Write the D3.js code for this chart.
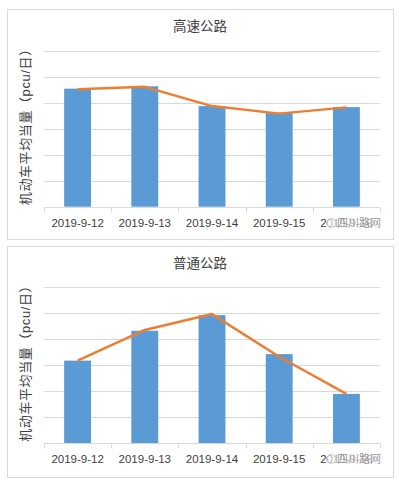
<!DOCTYPE html>
<html>
<head>
<meta charset="utf-8">
<script src="https://cdn.jsdelivr.net/npm/d3@7/dist/d3.min.js"></script>
<style>
  body { margin: 0; background: #fff; }
  svg text { font-family: "Liberation Sans", Arial, "Noto Sans CJK SC", sans-serif; fill: #404040; }
</style>
</head>
<body>
<svg id="chart" width="399" height="484"></svg>
<script>
const width = 399,
  height = 484

const dates = ['2019-9-12', '2019-9-13', '2019-9-14', '2019-9-15', '2019-9-16']
const titles = ['高速公路', '普通公路']
const highwayBars = [4.54, 4.63, 3.87, 3.62, 3.83]
const highwayLine = [4.52, 4.61, 3.87, 3.58, 3.82]
const roadBars = [3.18, 4.33, 4.93, 3.43, 1.90]
const roadLine = [3.18, 4.36, 4.97, 3.33, 1.90]
const yTicks = [0, 1, 2, 3, 4, 5, 6]
const yTitle = '机动车平均当量（pcu/日）'

let svg = d3.select('#chart')

// one panel per road type
let panels = [
  { title: titles[0], bars: highwayBars, line: highwayLine, box: [7, 9, 393, 239], plot: [50.7, 206.7] },
  { title: titles[1], bars: roadBars, line: roadLine, box: [7, 246, 393, 477], plot: [287.3, 443.3] }
]

function drawPanel(p) {
  let g = svg.append('g')

  g.append('rect')
    .attr('x', p.box[0] + 0.5)
    .attr('y', p.box[1] + 0.5)
    .attr('width', p.box[2] - p.box[0])
    .attr('height', p.box[3] - p.box[1])
    .attr('fill', '#fff')
    .attr('stroke', '#d9d9d9')

  let x = d3.scaleBand()
    .domain(dates)
    .range([44, 380])
    .paddingInner(0.6)
    .paddingOuter(0.3)

  let y = d3.scaleLinear()
    .domain([0, 6])
    .range([p.plot[1], p.plot[0]])

  // gridlines
  g.append('g')
    .selectAll('line')
    .data(yTicks.slice(1))
    .join('line')
      .attr('x1', 44)
      .attr('x2', 380)
      .attr('y1', d => Math.round(y(d)) + 0.5)
      .attr('y2', d => Math.round(y(d)) + 0.5)
      .attr('stroke', '#d9d9d9')

  g.append('text')
    .attr('x', 200)
    .attr('y', p.box[1] + 22)
    .attr('text-anchor', 'middle')
    .attr('font-size', 13.5)
    .text(p.title)

  g.append('text')
    .attr('transform', `translate(30, ${(p.plot[0] + p.plot[1]) / 2 - 5}) rotate(-90)`)
    .attr('text-anchor', 'middle')
    .attr('font-size', 13)
    .attr('letter-spacing', 0.6)
    .text(yTitle)

  g.selectAll('rect.bar')
    .data(p.bars)
    .join('rect')
      .attr('class', 'bar')
      .attr('x', (d, i) => x(dates[i]))
      .attr('width', x.bandwidth())
      .attr('y', d => y(d))
      .attr('height', d => y(0) - y(d))
      .attr('fill', '#5b9bd5')

  // x axis
  let xAxis = g.append('g')
    .attr('transform', `translate(0, ${Math.round(y(0)) + 0.5})`)
  xAxis.append('line')
    .attr('x1', 44).attr('x2', 380)
    .attr('stroke', '#d9d9d9')
  xAxis.selectAll('line.tick')
    .data(d3.range(dates.length + 1))
    .join('line')
      .attr('class', 'tick')
      .attr('x1', i => Math.round(44 + i * (336 / dates.length)) + 0.5)
      .attr('x2', i => Math.round(44 + i * (336 / dates.length)) + 0.5)
      .attr('y1', 0)
      .attr('y2', 5)
      .attr('stroke', '#d9d9d9')
  xAxis.selectAll('text')
    .data(dates)
    .join('text')
      .attr('x', d => x(d) + x.bandwidth() / 2)
      .attr('y', 19)
      .attr('text-anchor', 'middle')
      .attr('font-size', 11.5)
      .text(d => d)

  let line = d3.line()
    .x((d, i) => x(dates[i]) + x.bandwidth() / 2)
    .y(d => y(d))

  g.append('path')
    .attr('d', line(p.line))
    .attr('fill', 'none')
    .attr('stroke', '#ed7d31')
    .attr('stroke-width', 2.5)
    .attr('stroke-linejoin', 'round')

  // watermark over the last label
  let wy = Math.round(y(0)) + 15
  g.append('rect')
    .attr('x', 327).attr('y', wy - 8)
    .attr('width', 58).attr('height', 16)
    .attr('fill', '#fff').attr('opacity', 0.6)
  g.append('circle')
    .attr('cx', 331).attr('cy', wy + 1)
    .attr('r', 4.5)
    .attr('fill', 'none')
    .attr('stroke', '#c8c8c8')
  g.append('text')
    .attr('x', 337).attr('y', wy + 5)
    .attr('font-size', 11)
    .style('fill', '#9a9a9a')
    .text('四川路网')
}

panels.forEach(drawPanel)
</script>
</body>
</html>
